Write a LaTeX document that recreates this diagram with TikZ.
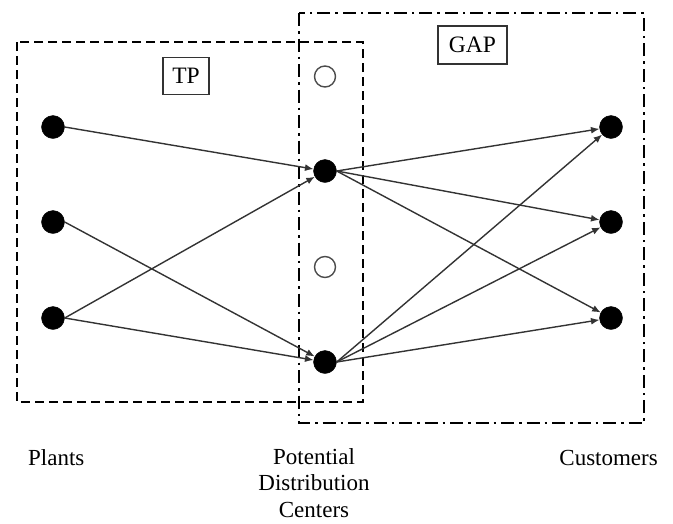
\documentclass[tikz,border=0pt]{standalone}
\usepackage{fontspec}
\setmainfont{Liberation Serif}
\usetikzlibrary{arrows.meta}
\tikzset{
  dot/.style={circle,fill=black,draw=black,inner sep=0pt,minimum size=23pt},
  opendot/.style={circle,draw=black!70,line width=1.4pt,fill=white,inner sep=0pt,minimum size=21pt},
  flow/.style={draw=black!80,line width=1.4pt,-{Latex[length=8.5pt,width=7pt]}},
  tpbox/.style={draw=black,line width=2.4pt,dash pattern=on 9pt off 5pt},
  gapbox/.style={draw=black,line width=2.4pt,dash pattern=on 13pt off 5pt on 2.5pt off 5pt},
  tag/.style={draw=black!80,line width=1.3pt,inner sep=0pt,font=\fontsize{23.5}{28}\selectfont},
  caption/.style={inner sep=0pt,font=\fontsize{23}{26.5}\selectfont}
}
\begin{document}
\begin{tikzpicture}[x=1pt,y=-1pt]
\useasboundingbox (0,0) rectangle (673,523);
% boxes
\draw[tpbox] (17,42) rectangle (363,402);
\draw[gapbox] (299,13) rectangle (644,423);
\node[tag,minimum width=46pt,minimum height=37pt] (tp) at (186,76) {TP};
\node[tag,minimum width=69pt,minimum height=38pt] (gap) at (472.5,45) {GAP};
% nodes
\node[dot] (p1) at (53,127) {};
\node[dot] (p2) at (53,222) {};
\node[dot] (p3) at (53,318) {};
\node[opendot] (o1) at (325,76.5) {};
\node[dot] (d1) at (325,171) {};
\node[opendot] (o2) at (325,267) {};
\node[dot] (d2) at (325,362) {};
\node[dot] (c1) at (611,127) {};
\node[dot] (c2) at (611,222) {};
\node[dot] (c3) at (611,318) {};
% flows
\draw[flow] (p1.east) -- (d1);
\draw[flow] (p2.east) -- (d2);
\draw[flow] (p3.east) -- (d1);
\draw[flow] (p3.east) -- (d2);
\draw[flow] (d1.east) -- (c1);
\draw[flow] (d1.east) -- (c2);
\draw[flow] (d1.east) -- (c3);
\draw[flow] (d2.east) -- (c1);
\draw[flow] (d2.east) -- (c2);
\draw[flow] (d2.east) -- (c3);
% captions
\node[caption,anchor=base west] (lp) at (28,465) {Plants};
\node[caption,anchor=north,align=center] (ld) at (314,448) {Potential\\Distribution\\Centers};
\node[caption,anchor=base east] (lc) at (658,465) {Customers};
\end{tikzpicture}
\end{document}
